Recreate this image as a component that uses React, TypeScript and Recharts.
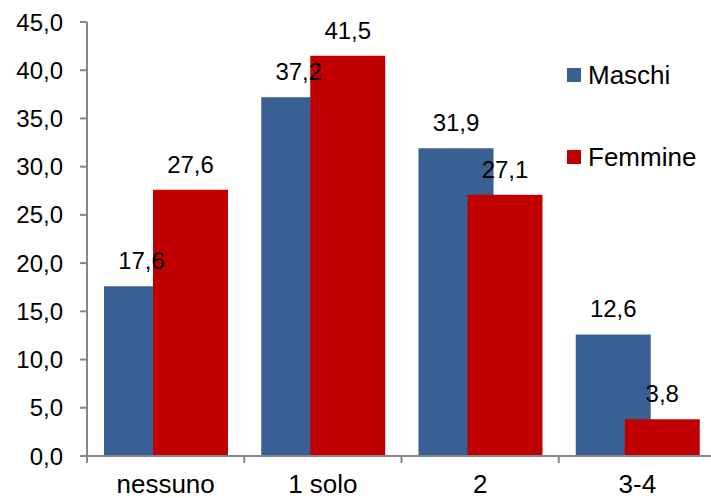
import React from 'react';
import { BarChart, Bar, XAxis, YAxis, Legend, LabelList } from 'recharts';

const categories = ['nessuno', '1 solo', '2', '3-4'];
const maschi = [17.6, 37.2, 31.9, 12.6];
const femmine = [27.6, 41.5, 27.1, 3.8];
const seriesNames = ['Maschi', 'Femmine'];
const yTicks = [0, 5, 10, 15, 20, 25, 30, 35, 40, 45];

const data = categories.map((c, i) => ({ name: c, maschi: maschi[i], femmine: femmine[i] }));

const fmt = (v: any) => Number(v).toFixed(1).replace('.', ',');
const FONT = 'Liberation Sans, Arial, sans-serif';
const AXIS = '#868686';
const X_MARGIN = 19;

// category label plus the tick mark at the left edge of its band (and the right edge for the last one)
function CategoryTick(props: any) {
  const { x, y, payload, index } = props;
  const half = payload.offset || 0;
  const y0 = y - X_MARGIN;
  return (
    <g>
      <line x1={x - half} x2={x - half} y1={y0} y2={y0 + 7} stroke={AXIS} strokeWidth={2} />
      {index === categories.length - 1 && (
        <line x1={x + half} x2={x + half} y1={y0} y2={y0 + 7} stroke={AXIS} strokeWidth={2} />
      )}
      <text x={x} y={y} dy="0.71em" textAnchor="middle" fontSize={26} fill="#000" fontFamily={FONT}>
        {payload.value}
      </text>
    </g>
  );
}

function LegendBox(props: any) {
  const items = [...(props.payload || [])].sort(
    (a: any, b: any) => seriesNames.indexOf(a.value) - seriesNames.indexOf(b.value)
  );
  return (
    <div style={{ fontFamily: FONT, fontSize: 26, color: '#000' }}>
      {items.map((it: any) => (
        <div key={it.value} style={{ display: 'flex', alignItems: 'center', height: 30, marginBottom: 52 }}>
          <span style={{ width: 14, height: 14, background: it.color, display: 'inline-block', marginRight: 7 }} />
          <span>{it.value}</span>
        </div>
      ))}
    </div>
  );
}

export default function App() {
  return (
    <div style={{ position: 'absolute', left: 0, top: 0, background: '#fff' }}>
      <BarChart
        width={711}
        height={498}
        data={data}
        margin={{ top: 22, right: -5, bottom: 0, left: 7 }}
        barGap={-26}
        barSize={75}
      >
        <XAxis
          dataKey="name"
          height={42}
          tickLine={false}
          tickSize={0}
          axisLine={{ stroke: AXIS, strokeWidth: 2 }}
          tickMargin={X_MARGIN}
          tick={<CategoryTick />}
          interval={0}
        />
        <YAxis
          width={80}
          domain={[0, 45]}
          ticks={yTicks}
          tickFormatter={fmt}
          tickSize={7}
          tickMargin={17}
          axisLine={{ stroke: AXIS, strokeWidth: 2 }}
          tickLine={{ stroke: AXIS, strokeWidth: 2 }}
          tick={{ fontSize: 24, fill: '#000', fontFamily: FONT }}
        />
        <Legend
          layout="horizontal"
          verticalAlign="middle"
          align="center"
          content={<LegendBox />}
          wrapperStyle={{ position: 'absolute', left: 567, top: 60, width: 140 }}
        />
        <Bar dataKey="maschi" name="Maschi" fill="#386092" isAnimationActive={false}>
          <LabelList dataKey="maschi" position="top" offset={17} formatter={fmt} style={{ fontSize: 24, fill: '#000', fontFamily: FONT }} />
        </Bar>
        <Bar dataKey="femmine" name="Femmine" fill="#C00000" isAnimationActive={false}>
          <LabelList dataKey="femmine" position="top" offset={17} formatter={fmt} style={{ fontSize: 24, fill: '#000', fontFamily: FONT }} />
        </Bar>
      </BarChart>
    </div>
  );
}
